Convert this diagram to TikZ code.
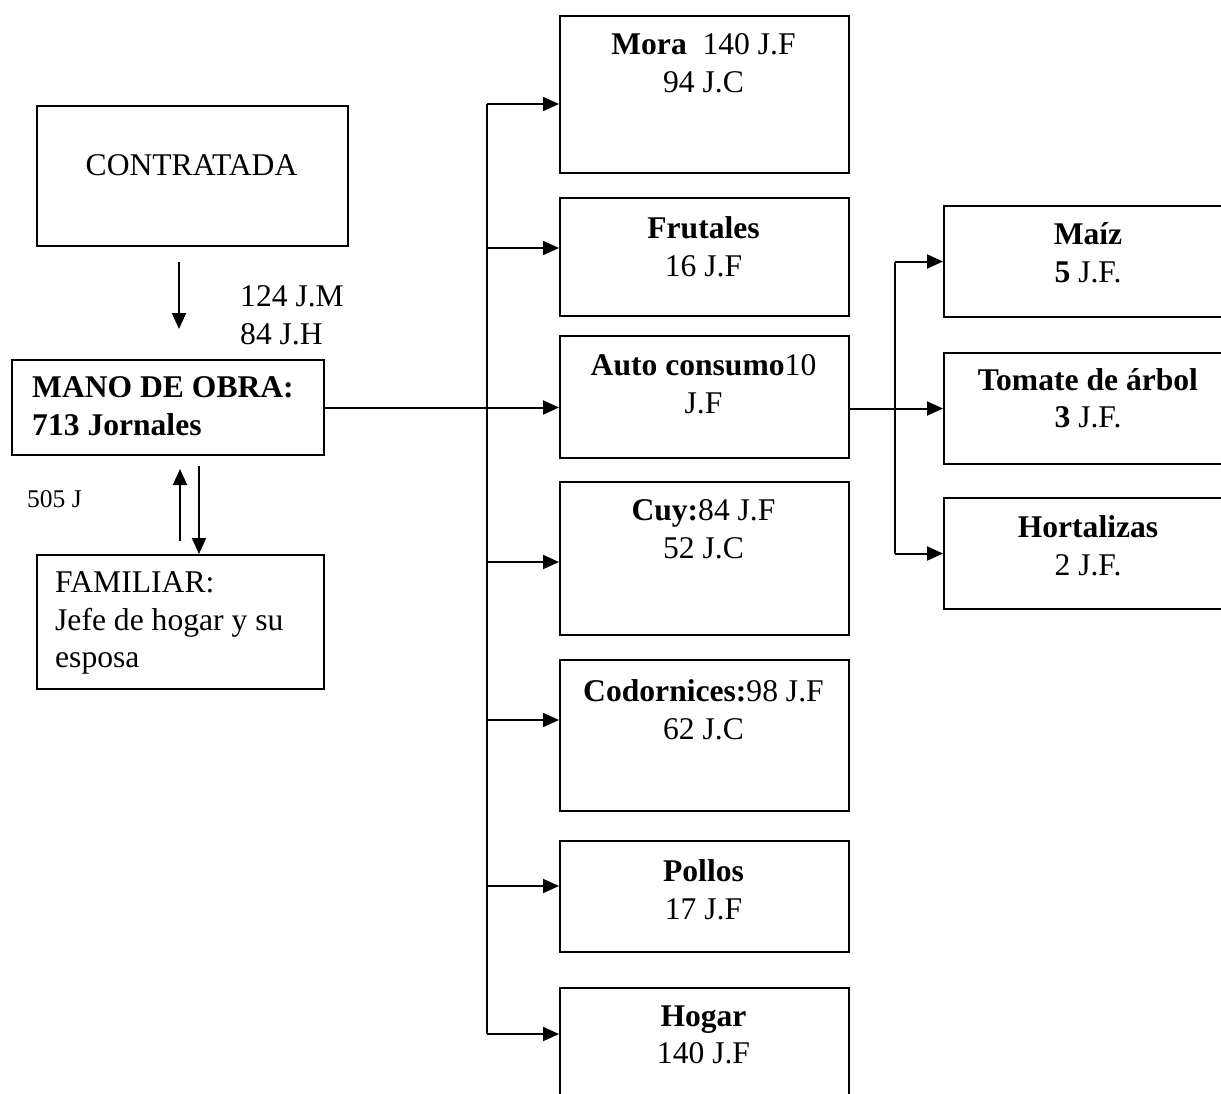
\documentclass[tikz,border=0pt]{standalone}
\usepackage{fontspec}
\setmainfont{Liberation Serif}
\usetikzlibrary{arrows.meta}
\begin{document}
\begin{tikzpicture}[x=1pt,y=-1pt,
  box/.style={draw, line width=2pt, rectangle, inner sep=0pt, anchor=north west},
  txt/.style={inner sep=0pt, font=\fontsize{31.6}{37.5}\selectfont, align=center, anchor=north},
  ltxt/.style={txt, align=left, anchor=north west},
  conn/.style={line width=2pt},
  arr/.style={conn, -{Triangle[length=16pt,width=14pt]}}]

\useasboundingbox (0,0) rectangle (1221,1093);
\clip (0,0) rectangle (1221,1093);

% left column
\node[box, minimum width=311pt, minimum height=140pt] (contr) at (36,105) {};
\node[box, minimum width=312pt, minimum height=95pt] (mano) at (11,359) {};
\node[box, minimum width=287pt, minimum height=134pt] (fam) at (36,554) {};

\node[txt] (contrT) at (191.5,154.5) {CONTRATADA};
\node[ltxt] (manoT) at (32,376.5) {\textbf{MANO DE OBRA:}\\\textbf{713 Jornales}};
\node[ltxt] (famT) at (55,571.5) {FAMILIAR:\\Jefe de hogar y su\\esposa};
\node[ltxt] (contrL) at (240,285.5) {124 J.M\\84 J.H};
\node[ltxt, font=\fontsize{25.5}{30}\selectfont] (famL) at (27,490) {505 J};

% middle column
\node[box, minimum width=289pt, minimum height=157pt] (mora) at (559,15) {};
\node[box, minimum width=289pt, minimum height=118pt] (frut) at (559,197) {};
\node[box, minimum width=289pt, minimum height=122pt] (auto) at (559,335) {};
\node[box, minimum width=289pt, minimum height=153pt] (cuy) at (559,481) {};
\node[box, minimum width=289pt, minimum height=151pt] (codo) at (559,659) {};
\node[box, minimum width=289pt, minimum height=111pt] (poll) at (559,840) {};
\node[box, minimum width=289pt, minimum height=130pt] (hogar) at (559,987) {};

\node[txt] (moraT) at (703.5,33.5) {\textbf{Mora}\ \ 140 J.F\\94 J.C};
\node[txt] (frutT) at (703.5,216.5) {\textbf{Frutales}\\16 J.F};
\node[txt] (autoT) at (703.5,354.5) {\textbf{Auto consumo}10\\J.F};
\node[txt] (cuyT) at (703.5,499.5) {\textbf{Cuy:}84 J.F\\52 J.C};
\node[txt] (codoT) at (703.5,679.5) {\textbf{Codornices:}98 J.F\\62 J.C};
\node[txt] (pollT) at (703.5,859.5) {\textbf{Pollos}\\17 J.F};
\node[txt] (hogarT) at (703.5,1005.5) {\textbf{Hogar}\\140 J.F};

% right column
\node[box, minimum width=290pt, minimum height=111pt] (maiz) at (943,205) {};
\node[box, minimum width=290pt, minimum height=111pt] (tom) at (943,352) {};
\node[box, minimum width=290pt, minimum height=111pt] (hort) at (943,497) {};

\node[txt] (maizT) at (1088,222.5) {\textbf{Maíz}\\\textbf{5} J.F.};
\node[txt] (tomT) at (1088,368) {\textbf{Tomate de árbol}\\\textbf{3} J.F.};
\node[txt] (hortT) at (1088,515.5) {\textbf{Hortalizas}\\2 J.F.};

% vertical flows on the left
\coordinate (cA) at (179,262);
\coordinate (cB) at (179,329);
\draw[arr] (cA) -- (cB);
\coordinate (fA) at (180,541);
\coordinate (fB) at (180,469);
\draw[arr] (fA) -- (fB);
\coordinate (fC) at (199,466);
\draw[arr] (fC) -- (fC |- fam.north);

% distribution trunk
\coordinate (t1) at (487,104);
\coordinate (t2) at (487,248);
\coordinate (t4) at (487,562);
\coordinate (t5) at (487,720);
\coordinate (t6) at (487,886);
\coordinate (t7) at (487,1034);
\draw[conn] (t1) -- (t7);
\draw[arr] (mano.east) -- (mano.east -| auto.west);
\draw[arr] (t1) -- (t1 -| mora.west);
\draw[arr] (t2) -- (t2 -| frut.west);
\draw[arr] (t4) -- (t4 -| cuy.west);
\draw[arr] (t5) -- (t5 -| codo.west);
\draw[arr] (t6) -- (t6 -| poll.west);
\draw[arr] (t7) -- (t7 -| hogar.west);

% self-consumption branch
\coordinate (rj) at (895,0);
\draw[arr] (tom.west -| auto.east) -- (tom.west);
\draw[conn] (maiz.west -| rj) -- (hort.west -| rj);
\draw[arr] (maiz.west -| rj) -- (maiz.west);
\draw[arr] (hort.west -| rj) -- (hort.west);
\end{tikzpicture}
\end{document}
